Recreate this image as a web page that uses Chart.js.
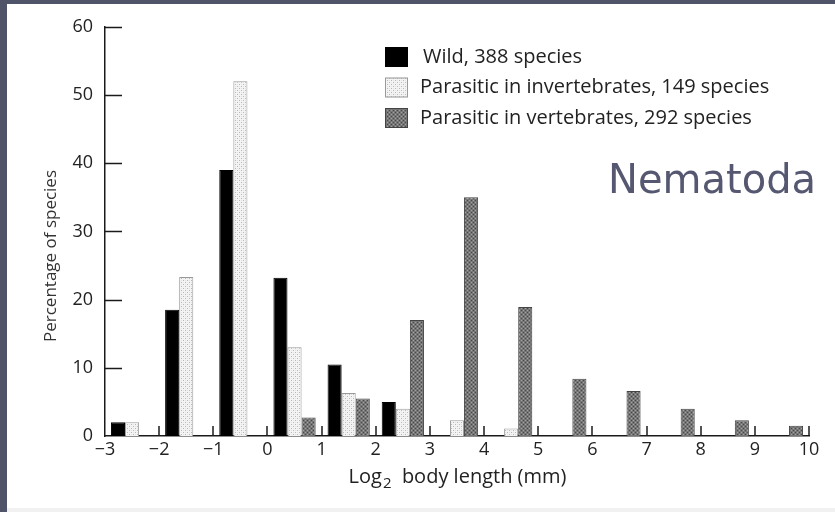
<!DOCTYPE html>
<html>
<head>
<meta charset="utf-8">
<script src="https://cdn.jsdelivr.net/npm/chart.js@4.4.1/dist/chart.umd.min.js"></script>
<style>
  html, body { margin: 0; padding: 0; background: #505468; }
  #frame { position: relative; width: 835px; height: 512px; background: #505468; overflow: hidden; }
  #paper { position: absolute; left: 7px; top: 4px; width: 828px; height: 508px; background: #f1f1f1; }
  #chart { display: block; background: #fff; }
</style>
</head>
<body>
<div id="frame"><div id="paper"><canvas id="chart" width="828" height="504"></canvas></div></div>
<script>
// start of each log2 body-length interval
const binStarts = [-3, -2, -1, 0, 1, 2, 3, 4, 5, 6, 7, 8, 9];
// percentage of species per interval
const wild = [2.0, 18.5, 39.0, 23.2, 10.5, 5.0, null, null, null, null, null, null, null];
const invertebrates = [2.0, 23.3, 52.0, 13.0, 6.3, 4.0, 2.3, 1.1, null, null, null, null, null];
const vertebrates = [null, null, null, 2.7, 5.5, 17.0, 35.0, 18.9, 8.4, 6.6, 4.0, 2.3, 1.5];
const seriesNames = [
  'Wild, 388 species',
  'Parasitic in invertebrates, 149 species',
  'Parasitic in vertebrates, 292 species'
];
const xTickValues = [-3, -2, -1, 0, 1, 2, 3, 4, 5, 6, 7, 8, 9, 10];
const xTickLabels = ['\u22123', '\u22122', '\u22121', '0', '1', '2', '3', '4', '5', '6', '7', '8', '9', '10'];
const yTicks = [0, 10, 20, 30, 40, 50, 60];

Chart.defaults.font.family = "'Open Sans', sans-serif";
Chart.defaults.color = '#222';

// little texture tiles, like the print stipple
function makePattern(bg, dotA, dotB) {
  const c = document.createElement('canvas');
  c.width = 4; c.height = 4;
  const g = c.getContext('2d');
  g.fillStyle = bg; g.fillRect(0, 0, 4, 4);
  g.fillStyle = dotA; g.fillRect(0, 0, 1, 1); g.fillRect(2, 2, 1, 1);
  g.fillStyle = dotB; g.fillRect(2, 0, 1, 1); g.fillRect(0, 2, 1, 1);
  return g.createPattern(c, 'repeat');
}
const lightFill = makePattern('#f4f4f4', '#b8b8b8', '#e2e2e2');
const darkFill = makePattern('#767676', '#484848', '#a0a0a0');

const fills = ['#000000', lightFill, darkFill];
const borders = ['#000000', '#9a9a9a', '#444444'];
const seriesData = [wild, invertebrates, vertebrates];

const datasets = seriesData.map((vals, i) => ({
  label: seriesNames[i],
  data: binStarts.map((b, j) => ({ x: b + 0.5, y: vals[j] })),
  backgroundColor: fills[i],
  borderColor: borders[i],
  borderWidth: 1,
  categoryPercentage: 0.78,
  barPercentage: 1.0
}));

// inner ticks, legend box, big label, axis titles
const decor = {
  id: 'decor',
  afterDraw(chart) {
    const ctx = chart.ctx;
    const xs = chart.scales.x, ys = chart.scales.y;
    const area = chart.chartArea;
    ctx.save();
    ctx.strokeStyle = '#1a1a1a';
    ctx.lineWidth = 1.5;
    yTicks.forEach(v => {
      if (v === 0) return;
      const py = Math.round(ys.getPixelForValue(v)) + 0.5;
      ctx.beginPath(); ctx.moveTo(area.left, py); ctx.lineTo(area.left + 17, py); ctx.stroke();
    });
    xTickValues.forEach(v => {
      if (v === xTickValues[0]) return;
      const px = Math.round(xs.getPixelForValue(v));
      ctx.beginPath(); ctx.moveTo(px, area.bottom); ctx.lineTo(px, area.bottom - 10); ctx.stroke();
    });

    // legend
    ctx.font = "20px 'Open Sans', sans-serif";
    ctx.textBaseline = 'middle';
    ctx.textAlign = 'left';
    chart.data.datasets.forEach((ds, i) => {
      const cy = 53 + i * 30.5;
      ctx.fillStyle = ds.backgroundColor;
      ctx.fillRect(378, cy - 10, 23, 20);
      ctx.strokeStyle = ds.borderColor;
      ctx.lineWidth = 1;
      ctx.strokeRect(378.5, cy - 9.5, 22, 19);
      ctx.fillStyle = '#222';
      ctx.fillText(ds.label, i === 0 ? 416 : 413, cy);
    });

    // big label
    ctx.font = "40px 'DejaVu Sans', sans-serif";
    ctx.fillStyle = '#555870';
    ctx.textBaseline = 'alphabetic';
    ctx.fillText('Nematoda', 601, 189);

    // x title with real subscript
    const mainFont = "20px 'Open Sans', sans-serif";
    const subFont = "15px 'Open Sans', sans-serif";
    ctx.font = mainFont;
    const wLog = ctx.measureText('Log').width;
    const wRest = ctx.measureText('  body length (mm)').width;
    ctx.font = subFont;
    const wSub = ctx.measureText('2').width;
    let tx = (area.left + area.right) / 2 - (wLog + wSub + wRest) / 2;
    const base = 479;
    ctx.fillStyle = '#222';
    ctx.font = mainFont; ctx.fillText('Log', tx, base); tx += wLog + 1;
    ctx.font = subFont; ctx.fillText('2', tx, base + 5); tx += wSub;
    ctx.font = mainFont; ctx.fillText('  body length (mm)', tx, base);

    // y title
    ctx.translate(44, 252);
    ctx.rotate(-Math.PI / 2);
    ctx.font = "17px 'Open Sans', sans-serif";
    ctx.fillStyle = '#333';
    ctx.textAlign = 'center';
    ctx.textBaseline = 'middle';
    ctx.fillText('Percentage of species', 0, 0);
    ctx.restore();
  }
};

new Chart(document.getElementById('chart'), {
  type: 'bar',
  data: { datasets },
  options: {
    responsive: false,
    devicePixelRatio: 1,
    animation: false,
    events: [],
    layout: { padding: { top: 20, right: 26, left: 0, bottom: 0 } },
    plugins: { legend: { display: false }, tooltip: { enabled: false } },
    scales: {
      x: {
        type: 'linear',
        min: xTickValues[0],
        max: xTickValues[xTickValues.length - 1],
        offset: false,
        grid: { display: false, drawTicks: false },
        border: { display: true, color: '#1a1a1a', width: 1.5 },
        ticks: {
          stepSize: 1,
          padding: 3,
          font: { size: 18 },
          color: '#222',
          maxRotation: 0,
          autoSkip: false,
          callback: v => xTickLabels[xTickValues.indexOf(v)]
        },
        afterFit: s => { s.height = 72; }
      },
      y: {
        min: yTicks[0],
        max: yTicks[yTicks.length - 1],
        grid: { display: false, drawTicks: false },
        border: { display: true, color: '#1a1a1a', width: 1.5 },
        ticks: { stepSize: 10, padding: 12, font: { size: 18 }, color: '#222' },
        afterFit: s => { s.width = 98; }
      }
    }
  },
  plugins: [decor]
});
</script>
</body>
</html>
